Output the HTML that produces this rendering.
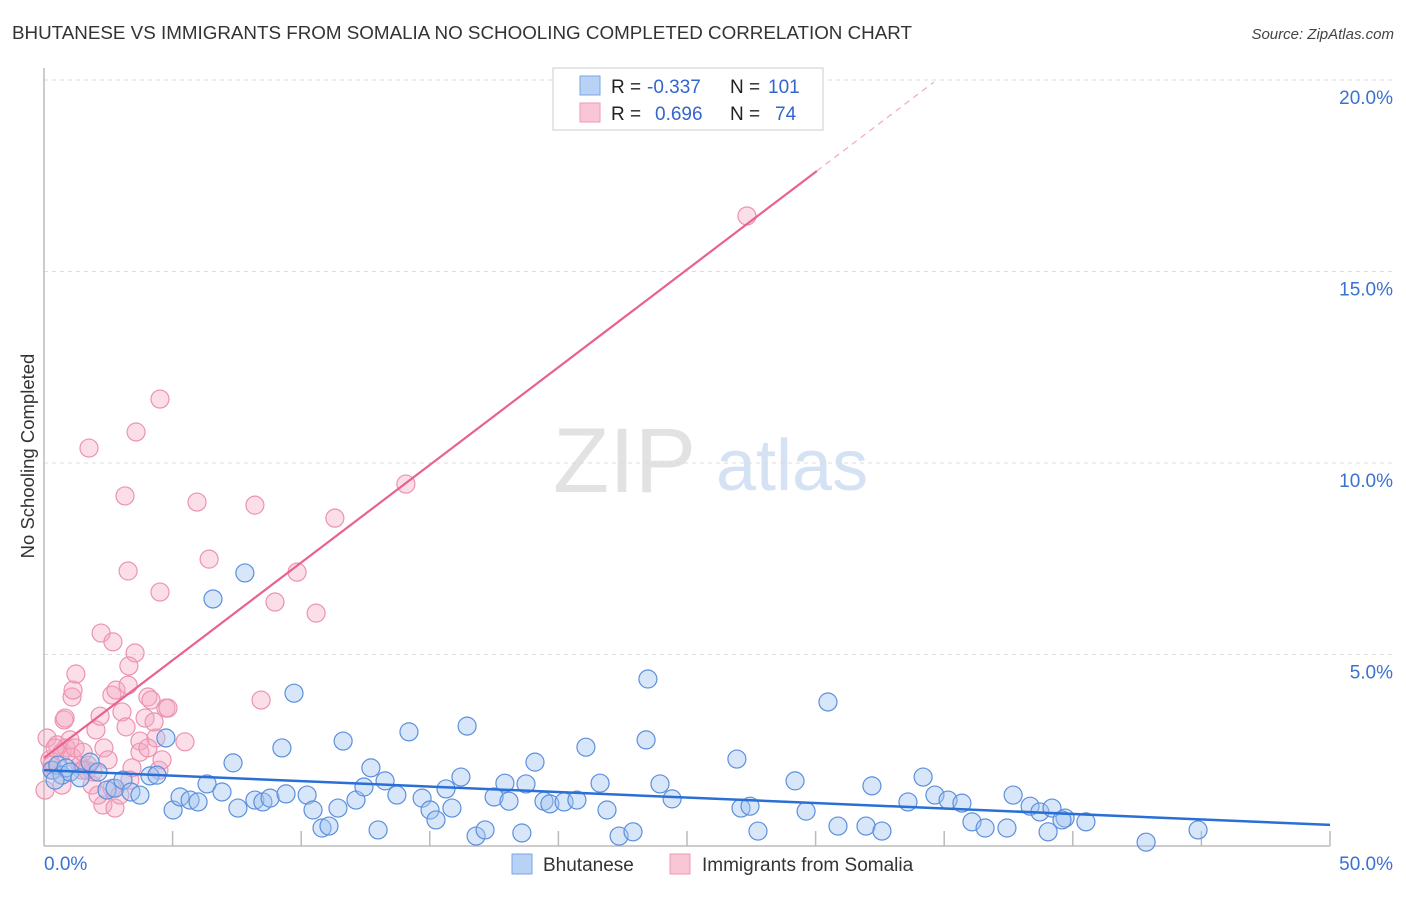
<!DOCTYPE html>
<html><head><meta charset="utf-8"><style>
body{margin:0;background:#fff;font-family:"Liberation Sans",sans-serif}
svg text{font-family:"Liberation Sans",sans-serif}
</style></head><body>
<svg id="chart" width="1406" height="892" viewBox="0 0 1406 892" xmlns="http://www.w3.org/2000/svg">
<text x="12" y="39" font-size="18" fill="#333" textLength="900" lengthAdjust="spacingAndGlyphs">BHUTANESE VS IMMIGRANTS FROM SOMALIA NO SCHOOLING COMPLETED CORRELATION CHART</text>
<text x="1394" y="39" font-size="15" fill="#444" text-anchor="end" font-style="italic">Source: ZipAtlas.com</text>
<text transform="translate(34,456) rotate(-90)" font-size="18.5" fill="#333" text-anchor="middle">No Schooling Completed</text>
<g>
<text x="553" y="492" font-family="Liberation Serif,serif" font-size="92" fill="#e2e2e2">ZIP</text>
<text x="716" y="490" font-size="72" fill="#d4e2f4">atlas</text>
</g>
<g id="grid"></g>
<g id="axes"></g>
<g id="pts"></g>
<g id="lines"></g>
<g>
<rect x="553" y="68" width="270" height="62" fill="#fff" stroke="#ccc"/>
<rect x="580" y="76" width="20" height="19" fill="#b7d2f5" stroke="#7aa6e6"/>
<rect x="580" y="103" width="20" height="19" fill="#f9c6d5" stroke="#ee9ab4"/>
<text x="611" y="93" font-size="19" fill="#222">R =</text>
<text x="647" y="93" font-size="19" fill="#3366cc">-0.337</text>
<text x="730" y="93" font-size="19" fill="#222">N =</text>
<text x="768" y="93" font-size="19" fill="#3366cc">101</text>
<text x="611" y="120" font-size="19" fill="#222">R =</text>
<text x="655" y="120" font-size="19" fill="#3366cc">0.696</text>
<text x="730" y="120" font-size="19" fill="#222">N =</text>
<text x="775" y="120" font-size="19" fill="#3366cc">74</text>
</g>
<g>
<rect x="512" y="854" width="20" height="20" fill="#b7d2f5" stroke="#7aa6e6"/>
<text x="543" y="871" font-size="19" fill="#333">Bhutanese</text>
<rect x="670" y="854" width="20" height="20" fill="#f9c6d5" stroke="#ee9ab4"/>
<text x="702" y="871" font-size="19" fill="#333">Immigrants from Somalia</text>
</g>
</svg>
<script>
const yTicks=[5,10,15,20];
const yTickLabels=["5.0%","10.0%","15.0%","20.0%"];
const xTickLabels=["0.0%","50.0%"];
const blueX=[0.31,0.54,0.70,0.86,1.01,0.43,1.40,1.79,2.10,2.45,2.76,3.07,3.38,3.73,4.12,4.39,4.74,5.02,5.29,5.68,5.99,6.34,6.57,6.92,7.35,7.54,7.81,8.20,8.51,8.79,9.25,9.41,9.72,10.23,10.46,10.81,11.08,11.43,11.63,12.13,12.44,12.71,12.99,13.26,13.72,14.19,14.70,15.01,15.24,15.63,15.86,16.21,16.45,16.80,17.15,17.50,17.92,18.08,18.58,18.74,19.09,19.44,19.67,20.22,20.72,21.07,21.62,21.89,22.36,22.90,23.41,23.48,23.95,24.42,26.94,27.10,27.45,27.76,29.20,29.63,30.48,30.87,31.96,32.19,32.58,33.59,34.18,34.64,35.15,35.69,36.08,36.59,37.44,37.68,38.34,38.72,39.04,39.19,39.70,39.58,40.51,42.85,44.87];
const blueY=[1.98,2.11,1.85,2.04,1.93,1.72,1.78,2.19,1.93,1.46,1.51,1.72,1.41,1.33,1.83,1.85,2.82,0.94,1.28,1.20,1.15,1.62,6.45,1.41,2.17,0.99,7.13,1.20,1.15,1.25,2.56,1.36,3.99,1.33,0.94,0.47,0.52,0.99,2.74,1.20,1.54,2.04,0.42,1.70,1.33,2.98,1.25,0.94,0.68,1.49,0.99,1.80,3.13,0.26,0.42,1.28,1.64,1.17,0.34,1.62,2.19,1.17,1.10,1.15,1.20,2.58,1.64,0.94,0.26,0.37,2.77,4.36,1.62,1.23,2.27,0.99,1.04,0.39,1.70,0.91,3.76,0.52,0.52,1.57,0.39,1.15,1.80,1.33,1.20,1.12,0.63,0.47,0.47,1.33,1.04,0.89,0.37,0.99,0.73,0.68,0.63,0.10,0.42];
const pinkX=[0.12,0.23,0.35,0.51,0.70,0.86,1.01,1.09,1.21,1.40,1.52,1.67,1.87,2.02,2.18,2.33,2.49,2.64,2.80,3.03,3.19,3.27,3.42,3.54,3.73,3.93,4.04,4.16,4.35,4.47,4.59,4.74,5.48,0.78,0.82,1.09,1.13,1.24,2.22,2.68,3.30,1.75,3.15,3.27,3.58,4.51,4.51,5.95,6.42,8.20,8.44,8.98,9.84,10.58,11.31,14.07,27.33,2.64,2.29,2.76,2.95,2.10,1.91,1.71,4.28,3.73,0.70,0.43,0.31,3.34,1.48,4.04,0.04,4.82];
const pinkY=[2.82,2.25,1.98,2.64,2.45,2.56,2.77,2.32,2.56,2.11,2.45,1.98,1.59,3.03,3.39,2.56,2.25,3.94,4.07,3.50,3.11,4.20,2.04,5.04,2.74,3.34,3.89,3.81,2.82,1.98,2.25,3.60,2.72,3.29,3.34,3.89,4.07,4.49,5.56,5.33,4.70,10.39,9.14,7.18,10.81,6.63,11.67,8.98,7.49,8.90,3.81,6.37,7.15,6.08,8.56,9.45,16.45,1.51,1.07,0.99,1.33,1.33,1.93,2.11,3.24,2.45,1.59,2.56,2.11,1.72,1.98,2.56,1.46,3.60];
const blueTrendStart=1.98, blueTrendEnd=0.55; // y at x=0 and x=50
const pinkTrend=[2.30,0.51]; // intercept, slope
const pinkSolidEnd=30.05, pinkDashEnd=34.6;
const NS="http://www.w3.org/2000/svg";
const X0=44,X1=1330,Y0=846,PXY=38.3;
function sx(v){return X0+(X1-X0)*v/50;}
function sy(v){return Y0-v*PXY;}
function mk(t,a,p){const e=document.createElementNS(NS,t);for(const k in a)e.setAttribute(k,a[k]);p.appendChild(e);return e;}
const grid=document.getElementById('grid'),axes=document.getElementById('axes'),pts=document.getElementById('pts'),lines=document.getElementById('lines');
yTicks.forEach((t,i)=>{
 const g=mk('line',{x1:X0,x2:1394,y1:sy(t),y2:sy(t),stroke:'#dcdcdc','stroke-dasharray':'4,4'},grid);
 
 
 const l=mk('text',{x:1393,y:sy(t)+24,'font-size':19,fill:'#3a72d0','text-anchor':'end'},axes);
 l.textContent=yTickLabels[i];
 
 
});
const ya=mk('line',{x1:X0,x2:X0,y1:68,y2:Y0,stroke:'#bbb','stroke-width':1.5},axes);


const xa=mk('line',{x1:X0,x2:X1,y1:Y0,y2:Y0,stroke:'#bbb','stroke-width':1.5},axes);


for(let i=1;i<=10;i++){const tk=mk('line',{x1:sx(i*5),x2:sx(i*5),y1:Y0,y2:Y0-15,stroke:'#bbb','stroke-width':1.5},axes);
 
 }
const xl0=mk('text',{x:44,y:870,'font-size':19,fill:'#3a72d0'},axes);xl0.textContent=xTickLabels[0];


const xl1=mk('text',{x:1393,y:870,'font-size':19,fill:'#3a72d0','text-anchor':'end'},axes);xl1.textContent=xTickLabels[1];


pinkX.forEach((x,i)=>{const c=mk('circle',{cx:sx(x),cy:sy(pinkY[i]),r:9,fill:'rgba(244,168,194,0.38)',stroke:'#ec93b0','stroke-width':1.2},pts);
 
 });
blueX.forEach((x,i)=>{const c=mk('circle',{cx:sx(x),cy:sy(blueY[i]),r:9,fill:'rgba(160,195,240,0.42)',stroke:'#5c8fdc','stroke-width':1.2},pts);
 
 });
const bl=mk('line',{x1:sx(0),y1:sy(blueTrendStart),x2:sx(50),y2:sy(blueTrendEnd),stroke:'#2a6fd6','stroke-width':2.5},lines);


const pl=mk('line',{x1:sx(0),y1:sy(pinkTrend[0]),x2:sx(pinkSolidEnd),y2:sy(pinkTrend[0]+pinkTrend[1]*pinkSolidEnd),stroke:'#e9628c','stroke-width':2.2},lines);


const pd=mk('line',{x1:sx(pinkSolidEnd),y1:sy(pinkTrend[0]+pinkTrend[1]*pinkSolidEnd),x2:sx(pinkDashEnd),y2:sy(pinkTrend[0]+pinkTrend[1]*pinkDashEnd),stroke:'#eeaabf','stroke-width':1.2,'stroke-dasharray':'6,5'},lines);


</script>
</body></html>
